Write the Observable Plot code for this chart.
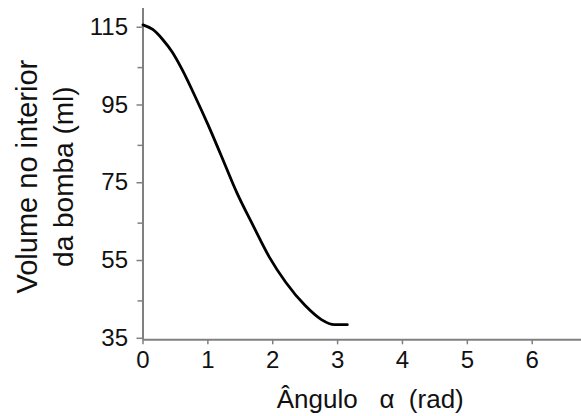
<!DOCTYPE html>
<html>
<head>
<meta charset="utf-8">
<script src="https://cdn.jsdelivr.net/npm/d3@7"></script>
<script src="https://cdn.jsdelivr.net/npm/@observablehq/plot@0.6"></script>
<style>
  html, body { margin: 0; padding: 0; background: #fff; }
  svg { display: block; font-family: "Liberation Sans", Arial, sans-serif; }
</style>
</head>
<body>
<div id="chart"></div>
<script>
const alpha  = [0, 0.15, 0.3, 0.45, 0.6, 0.8, 1.0, 1.2, 1.45, 1.7, 1.95, 2.2, 2.5, 2.75, 2.95, 3.15];
const volume = [116, 114.8, 112.3, 109, 104.6, 97.7, 90.4, 82.6, 72.7, 64.3, 56.2, 49.8, 43.8, 40.2, 38.9, 38.9];
const xTicks = [0, 1, 2, 3, 4, 5, 6];
const yTicks = [35, 55, 75, 95, 115];
const yMinorTicks = [45, 65, 85, 105];
const xLabel = "Ângulo\u00a0\u00a0\u00a0α\u00a0\u00a0(rad)";
const yLabel1 = "Volume no interior";
const yLabel2 = "da bomba (ml)";

const data = alpha.map((a, i) => ({a, v: volume[i]}));
const axisColor = "#808080";
const textColor = "#111";

const chart = Plot.plot({
  width: 581,
  height: 416,
  marginLeft: 142.5,
  marginRight: 0,
  marginTop: 8,
  marginBottom: 76.7,
  style: {fontFamily: "'Liberation Sans', Arial, sans-serif", background: "#fff"},
  x: {domain: [0, 6.76]},
  y: {domain: [35, 120.2]},
  marks: [
    Plot.axisY(yMinorTicks, {tickSize: 5, stroke: axisColor, strokeWidth: 1.5, label: null, tickFormat: () => ""}),
    Plot.axisY(yTicks, {tickSize: 6, tickPadding: 9, fontSize: 24, fill: textColor, stroke: axisColor, strokeWidth: 1.5, dy: -1.5, label: null, tickFormat: d => String(d)}),
    Plot.axisX(xTicks, {tickSize: 5, tickPadding: 6, fontSize: 24, fill: textColor, stroke: axisColor, strokeWidth: 1.5, label: null, tickFormat: d => String(d)}),
    Plot.ruleX([0], {stroke: axisColor, strokeWidth: 2}),
    Plot.ruleY([35], {stroke: axisColor, strokeWidth: 2}),
    Plot.line(data, {x: "a", y: "v", stroke: "#000", strokeWidth: 2.8, curve: "monotone-x"}),
    Plot.text([xLabel], {frameAnchor: "bottom", text: d => d, fontSize: 26, fill: textColor, dx: 8, dy: 60.3, textAnchor: "middle", lineAnchor: "middle"}),
    Plot.text([yLabel1], {frameAnchor: "left", text: d => d, fontSize: 29, fill: textColor, rotate: -90, dx: -115, dy: 2.5, textAnchor: "middle", lineAnchor: "middle"}),
    Plot.text([yLabel2], {frameAnchor: "left", text: d => d, fontSize: 28, fill: textColor, rotate: -90, dx: -78.5, dy: 2.5, textAnchor: "middle", lineAnchor: "middle"})
  ]
});
document.getElementById("chart").appendChild(chart);
</script>
</body>
</html>
